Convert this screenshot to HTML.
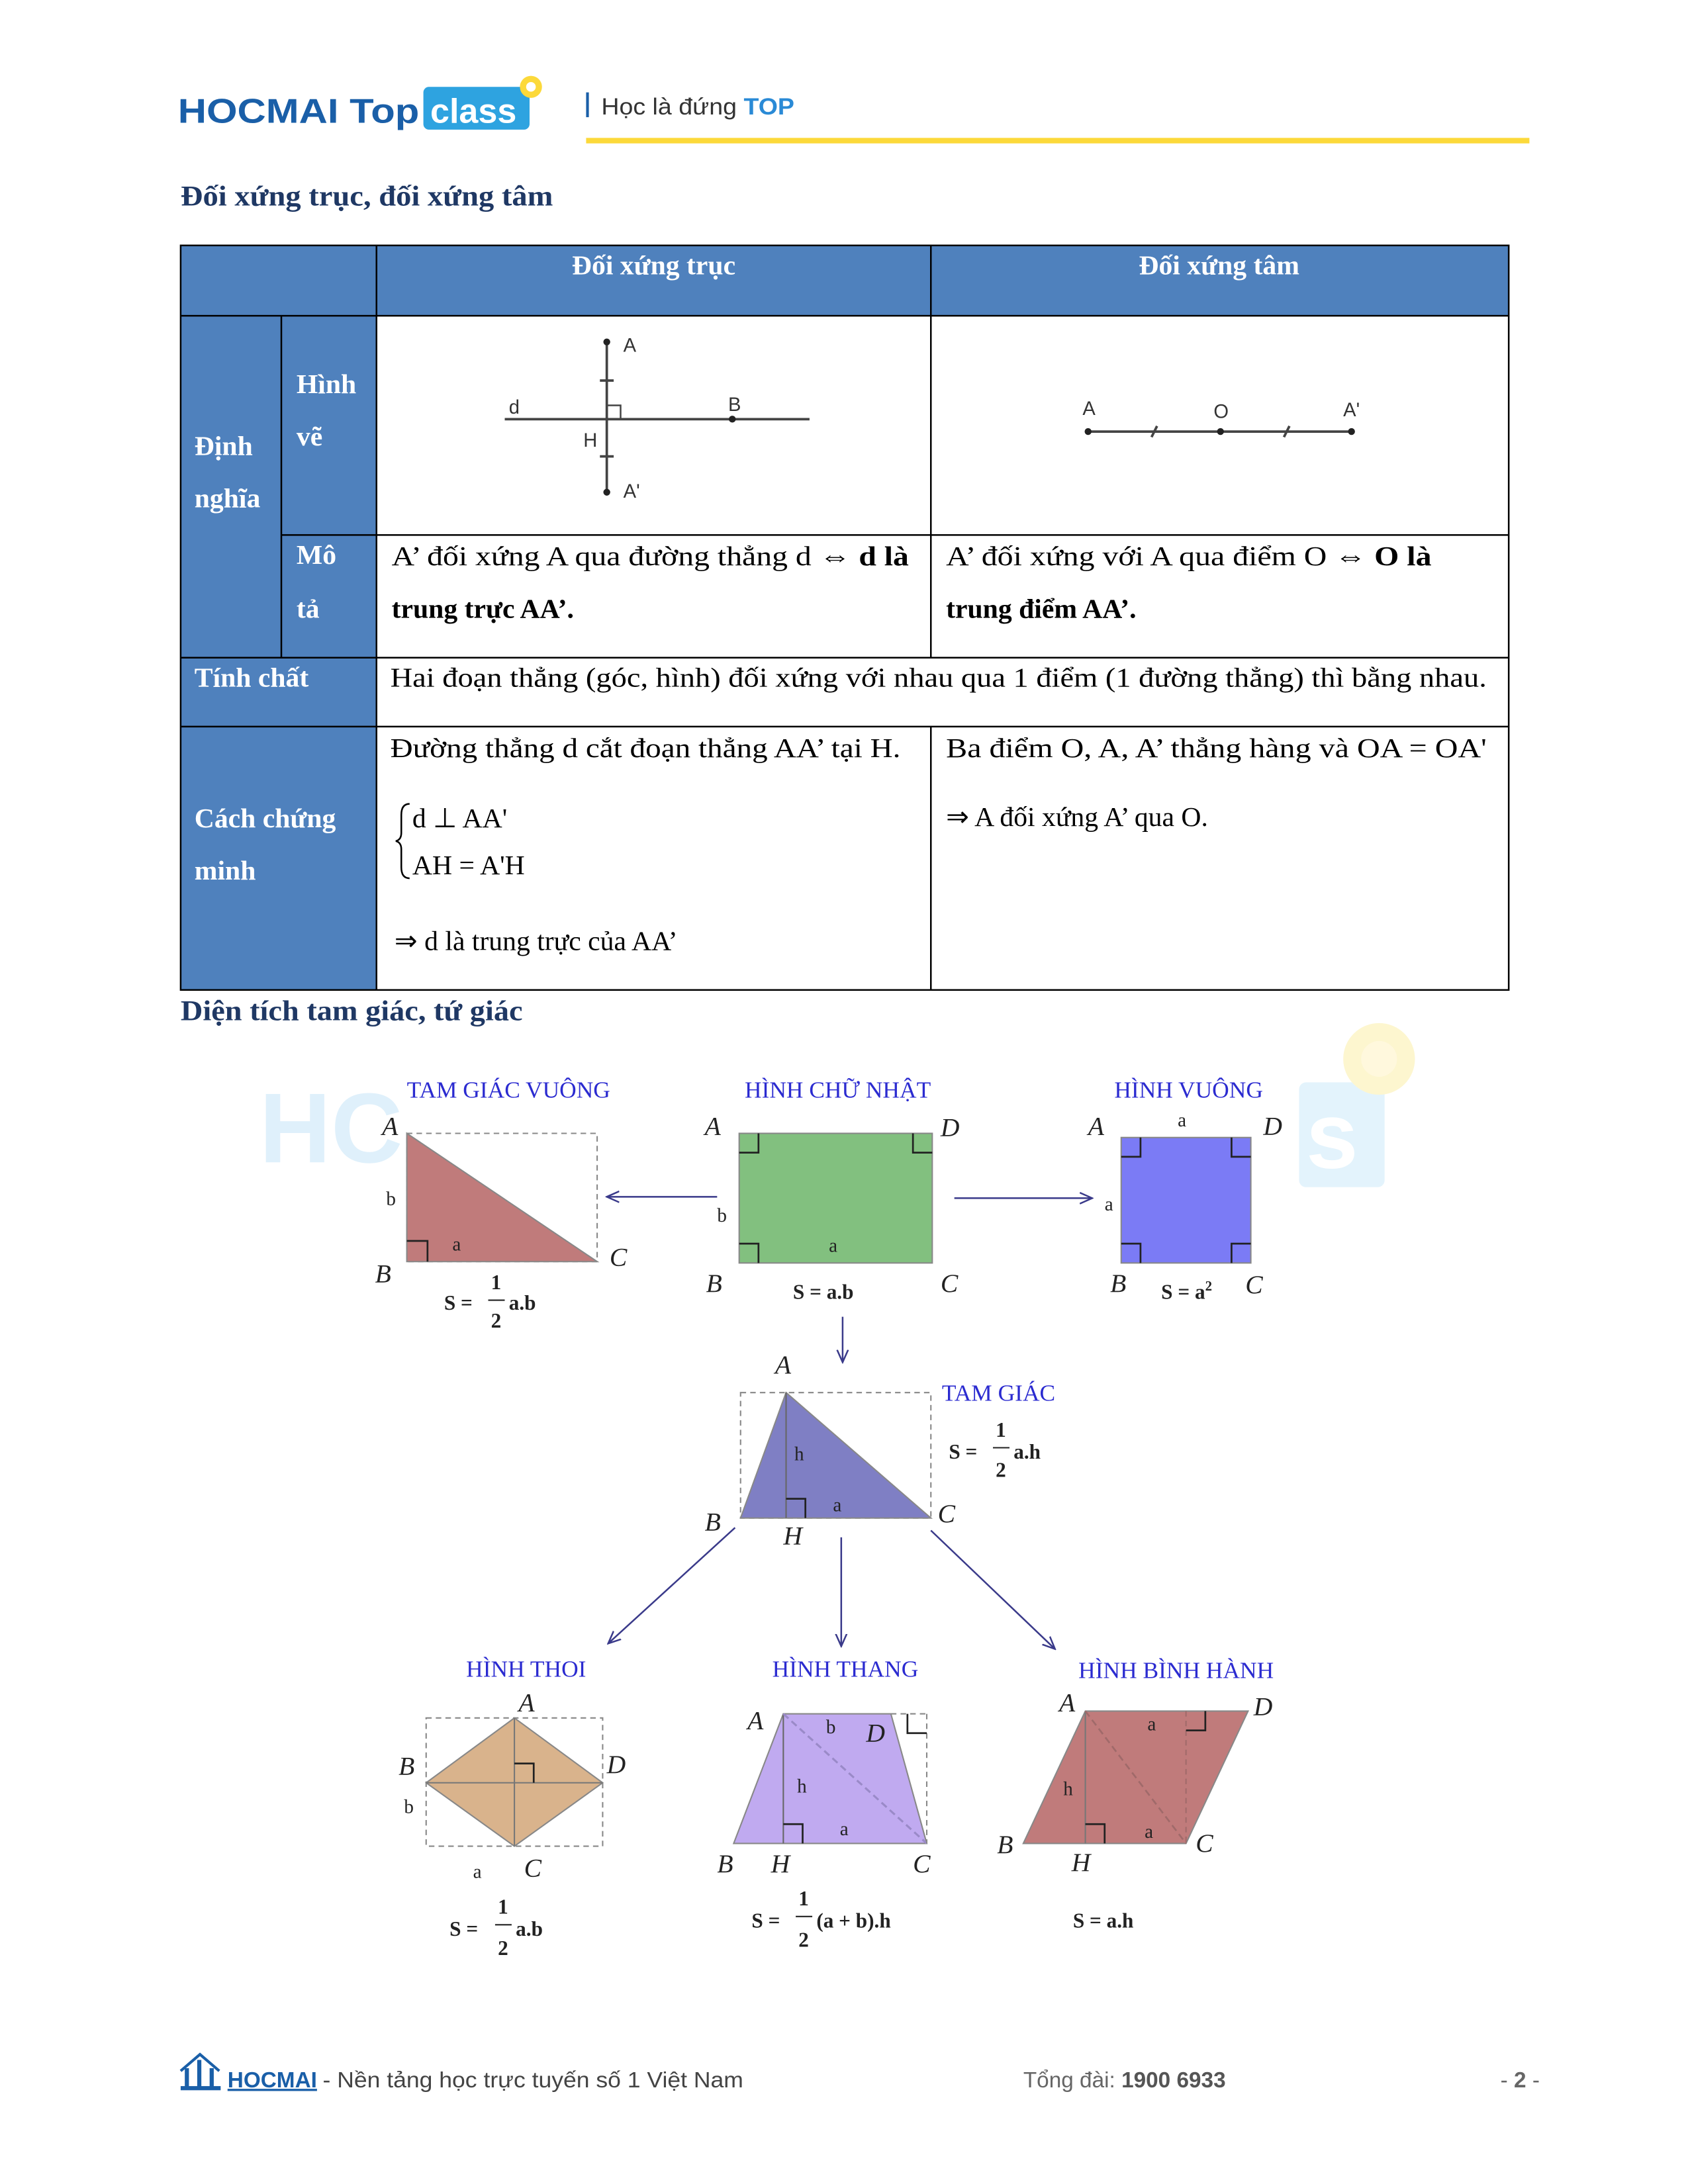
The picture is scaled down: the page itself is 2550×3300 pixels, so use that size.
<!DOCTYPE html>
<html><head><meta charset="utf-8"><style>
html,body{margin:0;padding:0;background:#fff}
svg{display:block}
.s{font-family:"Liberation Serif",serif}
.ss{font-family:"Liberation Sans",sans-serif}
.t{font-family:"Liberation Serif",serif;fill:#2b2bd0;font-size:17px}
.l{font-family:"Liberation Serif",serif;font-style:italic;font-size:19px;fill:#222}
.m{font-family:"Liberation Serif",serif;font-size:14px;fill:#222}
.f{font-family:"Liberation Serif",serif;font-size:15px;font-weight:bold;fill:#222}
</style></head><body>
<svg width="2550" height="3300" viewBox="0 0 1224 1584" xmlns="http://www.w3.org/2000/svg">
<defs><marker id="ar" markerWidth="10" markerHeight="10" refX="9" refY="5" orient="auto" markerUnits="userSpaceOnUse"><path d="M0,1 L9,5 L0,9" fill="none" stroke="#3a3a8a" stroke-width="1.2"/></marker></defs>
<!-- header -->
<text x="129" y="89" class="ss" font-size="25" font-weight="bold" fill="#1a5fa8" textLength="175" lengthAdjust="spacingAndGlyphs">HOCMAI Top</text>
<rect x="307" y="63" width="77" height="31" rx="4" fill="#2ea3e0"/>
<text x="312" y="89" class="ss" font-size="25" font-weight="bold" fill="#fff">class</text>
<circle cx="385" cy="63" r="8" fill="#fcd93a"/><circle cx="385" cy="63" r="3.5" fill="#fff"/>
<rect x="425" y="67" width="2" height="18" fill="#1a5fa8"/>
<text x="436" y="83" class="ss" font-size="17" fill="#333" textLength="140" lengthAdjust="spacingAndGlyphs">Học là đứng <tspan fill="#2a8ad6" font-weight="bold">TOP</tspan></text>
<rect x="425" y="100" width="684" height="4" fill="#fcd93a"/>
<text x="131" y="149" class="s" font-size="21" font-weight="bold" fill="#1f3864" textLength="270" lengthAdjust="spacingAndGlyphs">Đối xứng trục, đối xứng tâm</text>
<!-- table -->
<rect x="131" y="178" width="963" height="51" fill="#4f81bd"/>
<rect x="131" y="229" width="142" height="489" fill="#4f81bd"/>
<g stroke="#000" stroke-width="1.2" fill="none">
<rect x="131" y="178" width="963" height="540"/>
<line x1="273" y1="178" x2="273" y2="718"/>
<line x1="675" y1="178" x2="675" y2="477"/>
<line x1="675" y1="527" x2="675" y2="718"/>
<line x1="131" y1="229" x2="1094" y2="229"/>
<line x1="204" y1="229" x2="204" y2="477"/>
<line x1="204" y1="388" x2="1094" y2="388"/>
<line x1="131" y1="477" x2="1094" y2="477"/>
<line x1="131" y1="527" x2="1094" y2="527"/>
</g>
<g class="s" font-size="20" font-weight="bold" fill="#fff">
<text x="474" y="199" text-anchor="middle">Đối xứng trục</text>
<text x="884" y="199" text-anchor="middle">Đối xứng tâm</text>
<text x="215" y="285">Hình</text><text x="215" y="323">vẽ</text>
<text x="141" y="330">Định</text><text x="141" y="368">nghĩa</text>
<text x="215" y="409">Mô</text><text x="215" y="448">tả</text>
<text x="141" y="498">Tính chất</text>
<text x="141" y="600">Cách chứng</text><text x="141" y="638">minh</text>
</g>
<g class="s" font-size="20" fill="#000">
<text x="284" y="410" textLength="375" lengthAdjust="spacingAndGlyphs">A’ đối xứng A qua đường thẳng d ⇔ <tspan font-weight="bold">d là</tspan></text>
<text x="284" y="448" font-weight="bold">trung trực AA’.</text>
<text x="686" y="410" textLength="352" lengthAdjust="spacingAndGlyphs">A’ đối xứng với A qua điểm O ⇔ <tspan font-weight="bold">O là</tspan></text>
<text x="686" y="448" font-weight="bold">trung điểm AA’.</text>
<text x="283" y="498" textLength="795" lengthAdjust="spacingAndGlyphs">Hai đoạn thẳng (góc, hình) đối xứng với nhau qua 1 điểm (1 đường thẳng) thì bằng nhau.</text>
<text x="283" y="549" textLength="370" lengthAdjust="spacingAndGlyphs">Đường thẳng d cắt đoạn thẳng AA’ tại H.</text>
<text x="299" y="600">d ⊥ AA'</text>
<text x="299" y="634">AH = A'H</text>
<text x="286" y="689">⇒ d là trung trực của AA’</text>
<text x="686" y="549" textLength="392" lengthAdjust="spacingAndGlyphs">Ba điểm O, A, A’ thẳng hàng và OA = OA'</text>
<text x="686" y="599">⇒ A đối xứng A’ qua O.</text>
</g>
<path d="M297,583 q-6,0 -6,8 v13 q0,5 -4,6 q4,1 4,6 v13 q0,8 6,8" fill="none" stroke="#000" stroke-width="1.2"/>
<!-- axis fig -->
<g stroke="#444" stroke-width="1.8">
<line x1="440" y1="248" x2="440" y2="357"/><line x1="366" y1="304" x2="587" y2="304"/>
<line x1="435" y1="276" x2="445" y2="276"/><line x1="435" y1="331" x2="445" y2="331"/>
<path d="M440,294 h10 v10" fill="none" stroke-width="1.2"/>
<line x1="789" y1="313" x2="980" y2="313"/>
<line x1="835" y1="317" x2="839" y2="309"/><line x1="931" y1="317" x2="935" y2="309"/>
</g>
<g fill="#222"><circle cx="440" cy="248" r="2.5"/><circle cx="440" cy="357" r="2.5"/><circle cx="531" cy="304" r="2.5"/>
<circle cx="789" cy="313" r="2.5"/><circle cx="885" cy="313" r="2.5"/><circle cx="980" cy="313" r="2.5"/></g>
<g class="ss" font-size="14" fill="#333">
<text x="452" y="255">A</text><text x="528" y="298">B</text><text x="369" y="300">d</text><text x="423" y="324">H</text><text x="452" y="361">A'</text>
<text x="785" y="301">A</text><text x="880" y="303">O</text><text x="974" y="302">A'</text>
</g>
<text x="131" y="740" class="s" font-size="21" font-weight="bold" fill="#1f3864" textLength="248" lengthAdjust="spacingAndGlyphs">Diện tích tam giác, tứ giác</text>
<!-- watermark -->
<text x="188" y="843" class="ss" font-size="72" font-weight="bold" fill="#dff0fb">HC</text>
<rect x="942" y="785" width="62" height="76" rx="5" fill="#e3f3fc"/>
<text x="947" y="847" class="ss" font-size="68" font-weight="bold" fill="#fff">s</text>
<circle cx="1000" cy="768" r="26" fill="#fdf6cf"/><circle cx="1000" cy="768" r="13" fill="#fff8dd"/>
<!-- right triangle -->
<text x="295" y="796" class="t">TAM GIÁC VUÔNG</text>
<rect x="295" y="822" width="138" height="93" fill="none" stroke="#888" stroke-dasharray="4,3"/>
<polygon points="295,822 295,915 433,915" fill="#c07b7b" stroke="#888"/>
<path d="M295,900 h15 v15" fill="none" stroke="#222" stroke-width="1.3"/>
<text x="277" y="823" class="l">A</text><text x="272" y="930" class="l">B</text><text x="442" y="918" class="l">C</text>
<text x="280" y="874" class="m">b</text><text x="328" y="907" class="m">a</text>
<text x="322" y="950" class="f">S =</text><text x="356" y="935" class="f">1</text><line x1="354" y1="943" x2="366" y2="943" stroke="#222"/><text x="356" y="963" class="f">2</text><text x="369" y="950" class="f">a.b</text>
<line x1="520" y1="868" x2="440" y2="868" stroke="#3a3a8a" stroke-width="1.2" marker-end="url(#ar)"/>
<!-- rectangle -->
<text x="540" y="796" class="t">HÌNH CHỮ NHẬT</text>
<rect x="536" y="822" width="140" height="94" fill="#82c07f" stroke="#888"/>
<g fill="none" stroke="#222" stroke-width="1.3"><path d="M536,836 h14 v-14"/><path d="M662,822 v14 h14"/><path d="M536,902 h14 v14"/></g>
<text x="511" y="823" class="l">A</text><text x="682" y="824" class="l">D</text><text x="512" y="937" class="l">B</text><text x="682" y="937" class="l">C</text>
<text x="520" y="886" class="m">b</text><text x="601" y="908" class="m">a</text>
<text x="575" y="942" class="f">S = a.b</text>
<line x1="692" y1="869" x2="792" y2="869" stroke="#3a3a8a" stroke-width="1.2" marker-end="url(#ar)"/>
<!-- square -->
<text x="808" y="796" class="t">HÌNH VUÔNG</text>
<rect x="813" y="825" width="94" height="91" fill="#7b7bf5" stroke="#888"/>
<g fill="none" stroke="#222" stroke-width="1.3"><path d="M813,839 h14 v-14"/><path d="M893,825 v14 h14"/><path d="M813,902 h14 v14"/><path d="M907,902 h-14 v14"/></g>
<text x="789" y="823" class="l">A</text><text x="916" y="823" class="l">D</text><text x="805" y="937" class="l">B</text><text x="903" y="938" class="l">C</text>
<text x="854" y="817" class="m">a</text><text x="801" y="878" class="m">a</text>
<text x="842" y="942" class="f">S = a<tspan font-size="10" dy="-6">2</tspan></text>
<line x1="611" y1="955" x2="611" y2="988" stroke="#3a3a8a" stroke-width="1.2" marker-end="url(#ar)"/>
<!-- triangle -->
<text x="683" y="1016" class="t">TAM GIÁC</text>
<rect x="537" y="1010" width="138" height="91" fill="none" stroke="#888" stroke-dasharray="4,3"/>
<polygon points="570,1010 537,1101 675,1101" fill="#7f7fc4" stroke="#888"/>
<line x1="570" y1="1010" x2="570" y2="1101" stroke="#666"/>
<path d="M570,1087 h14 v14" fill="none" stroke="#222" stroke-width="1.3"/>
<text x="562" y="996" class="l">A</text><text x="511" y="1110" class="l">B</text><text x="680" y="1104" class="l">C</text><text x="568" y="1120" class="l">H</text>
<text x="576" y="1059" class="m">h</text><text x="604" y="1096" class="m">a</text>
<text x="688" y="1058" class="f">S =</text><text x="722" y="1042" class="f">1</text><line x1="720" y1="1050" x2="732" y2="1050" stroke="#222"/><text x="722" y="1071" class="f">2</text><text x="735" y="1058" class="f">a.h</text>
<g stroke="#3a3a8a" stroke-width="1.2">
<line x1="533" y1="1108" x2="441" y2="1192" marker-end="url(#ar)"/>
<line x1="610" y1="1115" x2="610" y2="1194" marker-end="url(#ar)"/>
<line x1="675" y1="1110" x2="765" y2="1196" marker-end="url(#ar)"/>
</g>
<!-- rhombus -->
<text x="338" y="1216" class="t">HÌNH THOI</text>
<rect x="309" y="1246" width="128" height="93" fill="none" stroke="#888" stroke-dasharray="4,3"/>
<polygon points="373,1246 437,1293 373,1339 309,1293" fill="#d9b38c" stroke="#888"/>
<line x1="373" y1="1246" x2="373" y2="1339" stroke="#777"/><line x1="309" y1="1293" x2="437" y2="1293" stroke="#777"/>
<path d="M373,1279 h14 v14" fill="none" stroke="#222" stroke-width="1.3"/>
<text x="376" y="1241" class="l">A</text><text x="289" y="1287" class="l">B</text><text x="440" y="1286" class="l">D</text><text x="380" y="1361" class="l">C</text>
<text x="293" y="1315" class="m">b</text><text x="343" y="1362" class="m">a</text>
<text x="326" y="1404" class="f">S =</text><text x="361" y="1388" class="f">1</text><line x1="359" y1="1396" x2="371" y2="1396" stroke="#222"/><text x="361" y="1418" class="f">2</text><text x="374" y="1404" class="f">a.b</text>
<!-- trapezoid -->
<text x="560" y="1216" class="t">HÌNH THANG</text>
<polygon points="568,1243 646,1243 672,1337 532,1337" fill="#c0aaf0" stroke="#888"/>
<line x1="568" y1="1243" x2="568" y2="1337" stroke="#666"/>
<line x1="568" y1="1243" x2="672" y2="1337" stroke="#9a8ac8" stroke-dasharray="5,3" stroke-width="1.5"/>
<line x1="672" y1="1243" x2="672" y2="1337" stroke="#888" stroke-dasharray="4,3"/>
<line x1="646" y1="1243" x2="672" y2="1243" stroke="#888" stroke-dasharray="4,3"/>
<path d="M568,1323 h14 v14" fill="none" stroke="#222" stroke-width="1.3"/>
<path d="M658,1243 v14 h14" fill="none" stroke="#222" stroke-width="1.3"/>
<text x="542" y="1254" class="l">A</text><text x="628" y="1263" class="l">D</text><text x="520" y="1358" class="l">B</text><text x="559" y="1358" class="l">H</text><text x="662" y="1358" class="l">C</text>
<text x="599" y="1257" class="m">b</text><text x="578" y="1300" class="m">h</text><text x="609" y="1331" class="m">a</text>
<text x="545" y="1398" class="f">S =</text><text x="579" y="1382" class="f">1</text><line x1="577" y1="1390" x2="589" y2="1390" stroke="#222"/><text x="579" y="1412" class="f">2</text><text x="592" y="1398" class="f">(a + b).h</text>
<!-- parallelogram -->
<text x="782" y="1217" class="t">HÌNH BÌNH HÀNH</text>
<polygon points="787,1241 905,1241 860,1337 742,1337" fill="#c07b7b" stroke="#888"/>
<line x1="787" y1="1241" x2="787" y2="1337" stroke="#777"/>
<line x1="787" y1="1241" x2="860" y2="1337" stroke="#a06a6a" stroke-dasharray="5,3" stroke-width="1.3"/>
<line x1="860" y1="1241" x2="860" y2="1337" stroke="#a06a6a" stroke-dasharray="4,3"/>
<path d="M787,1323 h14 v14" fill="none" stroke="#222" stroke-width="1.3"/>
<path d="M860,1255 h14 v-14" fill="none" stroke="#222" stroke-width="1.3"/>
<text x="768" y="1241" class="l">A</text><text x="909" y="1244" class="l">D</text><text x="723" y="1344" class="l">B</text><text x="867" y="1343" class="l">C</text><text x="777" y="1357" class="l">H</text>
<text x="771" y="1302" class="m">h</text><text x="832" y="1255" class="m">a</text><text x="830" y="1333" class="m">a</text>
<text x="778" y="1398" class="f">S = a.h</text>
<!-- footer -->
<g fill="#1a5fa8"><rect x="134" y="1500" width="3" height="14"/><rect x="143" y="1494" width="3" height="20"/><rect x="152" y="1500" width="3" height="14"/><path d="M131,1502 L145,1490 L159,1502" fill="none" stroke="#1a5fa8" stroke-width="2"/><rect x="131" y="1513" width="29" height="3"/></g>
<text x="165" y="1514" class="ss" font-size="16" fill="#1a5fa8" font-weight="bold" text-decoration="underline">HOCMAI</text>
<text x="234" y="1514" class="ss" font-size="16" fill="#444" textLength="305" lengthAdjust="spacingAndGlyphs"> - Nền tảng học trực tuyến số 1 Việt Nam</text>
<text x="742" y="1514" class="ss" font-size="16" fill="#666">Tổng đài: <tspan font-weight="bold" fill="#555">1900 6933</tspan></text>
<text x="1088" y="1514" class="ss" font-size="16" fill="#666">- <tspan font-weight="bold">2</tspan> -</text>
</svg>
</body></html>
